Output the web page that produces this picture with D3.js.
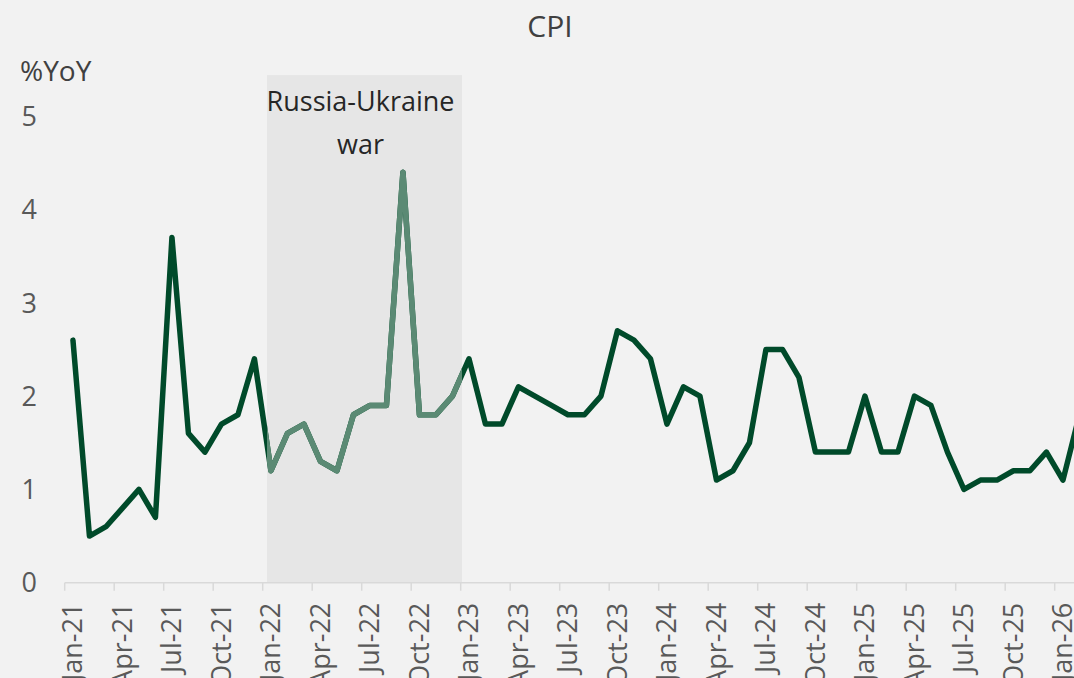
<!DOCTYPE html>
<html>
<head>
<meta charset="utf-8">
<script src="https://cdn.jsdelivr.net/npm/d3@7"></script>
<style>
  html, body { margin: 0; padding: 0; background: #F2F2F2; }
  svg { display: block; }
  text { font-family: "Open Sans", "Noto Sans", sans-serif; }
</style>
</head>
<body>
<svg id="chart" width="1074" height="678"></svg>
<script>
// Monthly CPI, % year on year
const months = [
  "Jan-21","Feb-21","Mar-21","Apr-21","May-21","Jun-21","Jul-21","Aug-21","Sep-21","Oct-21","Nov-21","Dec-21",
  "Jan-22","Feb-22","Mar-22","Apr-22","May-22","Jun-22","Jul-22","Aug-22","Sep-22","Oct-22","Nov-22","Dec-22",
  "Jan-23","Feb-23","Mar-23","Apr-23","May-23","Jun-23","Jul-23","Aug-23","Sep-23","Oct-23","Nov-23","Dec-23",
  "Jan-24","Feb-24","Mar-24","Apr-24","May-24","Jun-24","Jul-24","Aug-24","Sep-24","Oct-24","Nov-24","Dec-24",
  "Jan-25","Feb-25","Mar-25","Apr-25","May-25","Jun-25","Jul-25","Aug-25","Sep-25","Oct-25","Nov-25","Dec-25",
  "Jan-26","Feb-26"
];
const cpi = [
  2.6, 0.5, 0.6, 0.8, 1.0, 0.7, 3.7, 1.6, 1.4, 1.7, 1.8, 2.4,
  1.2, 1.6, 1.7, 1.3, 1.2, 1.8, 1.9, 1.9, 4.4, 1.8, 1.8, 2.0,
  2.4, 1.7, 1.7, 2.1, 2.0, 1.9, 1.8, 1.8, 2.0, 2.7, 2.6, 2.4,
  1.7, 2.1, 2.0, 1.1, 1.2, 1.5, 2.5, 2.5, 2.2, 1.4, 1.4, 1.4,
  2.0, 1.4, 1.4, 2.0, 1.9, 1.4, 1.0, 1.1, 1.1, 1.2, 1.2, 1.4,
  1.1, 1.8
];
const yTicks = [0, 1, 2, 3, 4, 5];
const tickLabelMonths = months.filter((m, i) => i % 3 === 0);
const warPeriod = ["Jan-22", "Jan-23"];
const warLabel = ["Russia-Ukraine", "war"];
const warTop = 5.44;

const svg = d3.select("#chart");
const W = 1074, H = 678;

const x0 = 64.7, bw = 16.5;
const x = d3.scaleBand().domain(months).range([x0, x0 + bw * months.length]).padding(0);
const y = d3.scaleLinear().domain([0, 5]).range([582.7, 116.2]);
const cx = m => x(m) + x.bandwidth() / 2;

svg.append("rect").attr("width", W).attr("height", H).attr("fill", "#F2F2F2");

// shaded war period
const shadeX0 = x(warPeriod[0]) + 4.3, shadeX1 = x(warPeriod[1]) + 1.3;
svg.append("rect")
  .attr("x", shadeX0).attr("y", y(warTop))
  .attr("width", shadeX1 - shadeX0).attr("height", y(0) - y(warTop))
  .attr("fill", "#E6E6E6");

svg.append("defs").append("clipPath").attr("id", "warClip")
  .append("rect")
  .attr("x", shadeX0).attr("y", 0)
  .attr("width", shadeX1 - shadeX0).attr("height", H);

svg.selectAll(".war-label").data(warLabel).join("text")
  .attr("class", "war-label")
  .attr("x", (shadeX0 + shadeX1) / 2 - 4)
  .attr("y", (d, i) => 111 + i * 43)
  .attr("text-anchor", "middle")
  .attr("font-size", 27)
  .attr("fill", "#262626")
  .text(d => d);

// x axis
const axisY = y(0);
svg.append("line")
  .attr("x1", x0).attr("x2", W + 20)
  .attr("y1", axisY).attr("y2", axisY)
  .attr("stroke", "#D9D9D9").attr("stroke-width", 1.5);

svg.selectAll(".xtick").data(tickLabelMonths).join("line")
  .attr("class", "xtick")
  .attr("x1", d => x(d)).attr("x2", d => x(d))
  .attr("y1", axisY).attr("y2", axisY + 8)
  .attr("stroke", "#D9D9D9").attr("stroke-width", 1.5);

svg.selectAll(".xlabel").data(tickLabelMonths).join("text")
  .attr("class", "xlabel")
  .attr("transform", d => `translate(${cx(d) + 9.5},${axisY + 20}) rotate(-90)`)
  .attr("text-anchor", "end")
  .attr("font-size", 27)
  .attr("fill", "#595959")
  .text(d => d);

// y axis labels
svg.selectAll(".ylabel").data(yTicks).join("text")
  .attr("class", "ylabel")
  .attr("x", 37).attr("y", d => y(d))
  .attr("dy", "0.36em")
  .attr("text-anchor", "end")
  .attr("font-size", 27)
  .attr("fill", "#595959")
  .text(d => d);

svg.append("text")
  .attr("x", 20).attr("y", 81)
  .attr("font-size", 28)
  .attr("fill", "#404040")
  .text("%YoY");

// title
svg.append("text")
  .attr("x", 550).attr("y", 37)
  .attr("text-anchor", "middle")
  .attr("font-size", 30)
  .attr("fill", "#404040")
  .text("CPI");

// CPI line
const series = months.map((m, i) => ({ m, v: cpi[i] }));
const line = d3.line().x(d => cx(d.m)).y(d => y(d.v));

svg.append("path")
  .datum(series)
  .attr("d", line)
  .attr("fill", "none")
  .attr("stroke", "#004A2A")
  .attr("stroke-width", 5.5)
  .attr("stroke-linejoin", "round")
  .attr("stroke-linecap", "round");

svg.append("path")
  .datum(series)
  .attr("d", line)
  .attr("clip-path", "url(#warClip)")
  .attr("fill", "none")
  .attr("stroke", "#5B8A74")
  .attr("stroke-width", 5.5)
  .attr("stroke-linejoin", "round")
  .attr("stroke-linecap", "round");
</script>
</body>
</html>
